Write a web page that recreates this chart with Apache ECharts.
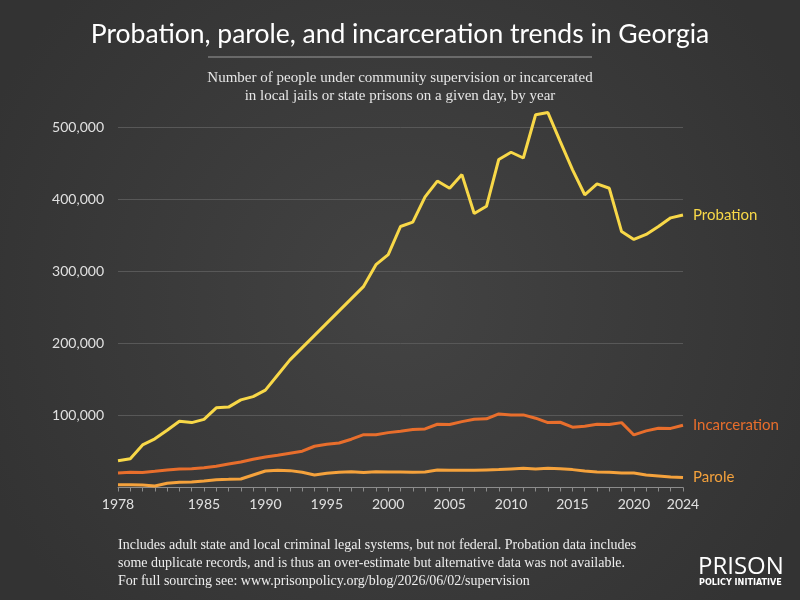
<!DOCTYPE html>
<html>
<head>
<meta charset="utf-8">
<script src="https://cdn.jsdelivr.net/npm/echarts@6/dist/echarts.min.js"></script>
<style>
  html, body { margin: 0; padding: 0; background: #3c3c3c; }
  #chart { width: 800px; height: 600px; }
</style>
</head>
<body>
<div id="chart"></div>
<script>
// Georgia probation / parole / incarceration, 1978-2024
const years = [];
for (let y = 1978; y <= 2024; y++) years.push(String(y));
const xLabels = ['1978', '1985', '1990', '1995', '2000', '2005', '2010', '2015', '2020', '2024'];

const probation = [
  37000, 40000, 59000, 67500, 79500, 92000, 90000, 94500, 110500, 111500,
  121500, 126000, 135000, 156000, 177000, 194000, 211000, 228000, 245000, 262000,
  279000, 309000, 323000, 362000, 368000, 403000, 425000, 415000, 434000, 380000,
  390000, 455000, 465000, 457000, 517000, 520000, 480000, 441000, 406000, 421000,
  415000, 355000, 344000, 351000, 362000, 374000, 378000
];
const incarceration = [
  20000, 21000, 20800, 22400, 24300, 25700, 26000, 27500, 29400, 32600,
  35400, 39100, 42300, 44700, 47500, 50300, 57200, 60000, 61800, 67000,
  73300, 73300, 76100, 78000, 80300, 81300, 87700, 87300, 91400, 94700,
  95200, 102100, 100700, 100700, 96100, 90000, 90500, 83600, 85000, 87800,
  87300, 90000, 72900, 78500, 82200, 82000, 86400
];
const parole = [
  3900, 3900, 3500, 2200, 5800, 7200, 7600, 9000, 10900, 11300,
  11800, 17400, 22900, 23800, 23400, 21100, 17400, 19700, 21100, 22000,
  20800, 22000, 21500, 21500, 21100, 21500, 24300, 23800, 23800, 23800,
  24300, 24800, 25700, 26600, 25700, 26600, 26100, 24800, 22900, 21500,
  21100, 20100, 20100, 17400, 16000, 14600, 13700
];
const yTicks = [0, 100000, 200000, 300000, 400000, 500000];

const footnote = [
  'Includes adult state and local criminal legal systems, but not federal. Probation data includes',
  'some duplicate records, and is thus an over-estimate but alternative data was not available.',
  'For full sourcing see: www.prisonpolicy.org/blog/2026/06/02/supervision'
];

const colors = { probation: '#F8D848', incarceration: '#E86E2C', parole: '#F5A23C' };

function lineSeries(name, data, color) {
  return {
    name,
    type: 'line',
    data,
    symbol: 'none',
    clip: false,
    lineStyle: { color, width: 3 },
    itemStyle: { color },
    endLabel: {
      show: true,
      formatter: '{a}',
      color,
      fontFamily: 'Lato',
      fontSize: 15,
      distance: 10
    },
    z: name === 'Probation' ? 5 : 4
  };
}

const chart = echarts.init(document.getElementById('chart'));
chart.setOption({
  backgroundColor: {
    type: 'radial', x: 0.5, y: 0.5, r: 0.75,
    colorStops: [
      { offset: 0, color: '#434343' },
      { offset: 1, color: '#333333' }
    ]
  },
  animation: false,
  title: {
    text: 'Probation, parole, and incarceration trends in Georgia',
    left: 'center',
    top: 16,
    textStyle: { color: '#ffffff', fontFamily: 'Lato', fontWeight: 'normal', fontSize: 26.5 }
  },
  graphic: [
    { type: 'line', shape: { x1: 208, y1: 57, x2: 592, y2: 57 }, style: { stroke: '#9a9a9a', lineWidth: 1 } },
    {
      type: 'text', x: 400, y: 69,
      style: {
        text: 'Number of people under community supervision or incarcerated\nin local jails or state prisons on a given day, by year',
        fill: '#e6e6e6', font: '15px "Liberation Serif"', align: 'center', lineHeight: 18
      }
    },
    {
      type: 'text', left: 118, top: 536,
      style: { text: footnote.join('\n'), fill: '#ededed', font: '14px "Liberation Serif"', lineHeight: 18 }
    },
    {
      type: 'text', left: 698, top: 555,
      style: { text: 'PRISON', fill: '#ffffff', font: '24px "Open Sans"' }
    },
    {
      type: 'text', left: 699, top: 578,
      style: { text: 'POLICY INITIATIVE', fill: '#ffffff', font: 'bold 9px "DejaVu Sans Condensed"' }
    }
  ],
  grid: { left: 118, right: 117, top: 127, bottom: 112.5 },
  xAxis: {
    type: 'category',
    data: years,
    boundaryGap: false,
    axisLine: { lineStyle: { color: '#8c8c8c', width: 1 } },
    axisTick: { show: true, interval: 0, length: 4, lineStyle: { color: '#8c8c8c' } },
    axisLabel: {
      interval: (i, v) => xLabels.includes(v),
      color: '#e0e0e0',
      fontFamily: 'Lato',
      fontSize: 14,
      margin: 10
    },
    splitLine: { show: false }
  },
  yAxis: {
    type: 'value',
    min: yTicks[0],
    max: yTicks[yTicks.length - 1],
    interval: 100000,
    axisLine: { show: false },
    axisTick: { show: false },
    axisLabel: {
      showMinLabel: false,
      color: '#e0e0e0',
      fontFamily: 'Lato',
      fontSize: 14,
      margin: 14,
      formatter: v => v.toLocaleString('en-US')
    },
    splitLine: { lineStyle: { color: '#585858', width: 1 } }
  },
  series: [
    lineSeries('Parole', parole, colors.parole),
    lineSeries('Incarceration', incarceration, colors.incarceration),
    lineSeries('Probation', probation, colors.probation)
  ]
});
</script>
</body>
</html>
